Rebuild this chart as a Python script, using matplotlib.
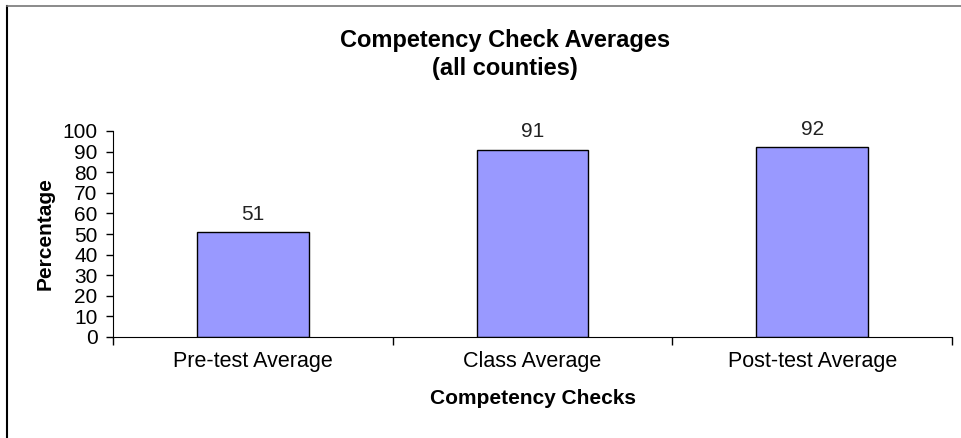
import matplotlib.pyplot as plt
import numpy as np

# chart data
categories = ['Pre-test Average', 'Class Average', 'Post-test Average']
averages = [51, 91, 92]
y_ticks = list(range(0, 101, 10))

plt.rcParams['font.family'] = ['Liberation Sans', 'DejaVu Sans']

fig = plt.figure(figsize=(9.61, 4.38), dpi=100)
ax = fig.add_axes([113 / 961, 1 - 337 / 438, 839 / 961, 206 / 438])

x = np.arange(len(categories))
bars = ax.bar(x, averages, width=0.4, color='#9999FF', edgecolor='black', linewidth=1)

for b, v in zip(bars, averages):
    ax.annotate(str(v), (b.get_x() + b.get_width() / 2, v), xytext=(0, 6),
                textcoords='offset points', ha='center', va='bottom', fontsize=15, color='#222222')

ax.set_xlim(-0.5, len(categories) - 0.5)
ax.set_ylim(0, 100)
ax.set_yticks(y_ticks)
ax.tick_params(axis='y', labelsize=15, length=5, width=1, pad=6, direction='out')

# category labels between boundary ticks, Excel style
ax.set_xticks(x)
ax.set_xticklabels(categories, fontsize=15.5)
ax.tick_params(axis='x', length=0, pad=10)
ax.set_xticks(np.arange(-0.5, len(categories)), minor=True)
ax.tick_params(axis='x', which='minor', length=6, width=1, direction='out')

for s in ['top', 'right']:
    ax.spines[s].set_visible(False)
ax.spines['left'].set_color('black')
ax.spines['bottom'].set_color('black')

ax.set_xlabel('Competency Checks', fontsize=15, fontweight='bold')
ax.xaxis.set_label_coords(0.5, -0.25)
ax.set_ylabel('Percentage', fontsize=15, fontweight='bold')
ax.yaxis.set_label_coords(-0.069, 0.5)

fig.text(505 / 961, 1 - 40 / 438, 'Competency Check Averages', ha='center', va='center',
         fontsize=17, fontweight='bold')
fig.text(505 / 961, 1 - 68 / 438, '(all counties)', ha='center', va='center',
         fontsize=17, fontweight='bold')

# outer chart frame (only left and top visible in the crop)
fig.add_artist(plt.Line2D([7 / 961, 7 / 961], [0, 1 - 6 / 438], color='black', linewidth=1.5))
fig.add_artist(plt.Line2D([7 / 961, 1], [1 - 6 / 438, 1 - 6 / 438], color='#777777', linewidth=1.2))

fig.savefig('out.png', dpi=100)
